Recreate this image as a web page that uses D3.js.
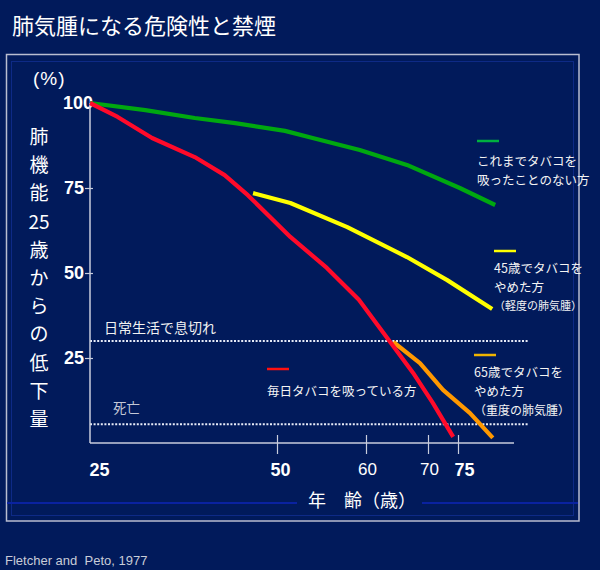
<!DOCTYPE html>
<html><head><meta charset="utf-8">
<script src="https://cdn.jsdelivr.net/npm/d3@7"></script>
<style>
html,body{margin:0;padding:0;background:#011a5b;}
svg{display:block;}
</style></head>
<body>
<script>
// ---------- data ----------
const title = "肺気腫になる危険性と禁煙";
const xTicks = [25, 50, 60, 70, 75];
const boldXTicks = [25, 50, 75];
const yTicks = [100, 75, 50, 25];
const yLabelChars = ["肺","機","能","25","歳","か","ら","の","低","下","量"];
const xLabel = "年　齢（歳）";
const source = "Fletcher and  Peto, 1977";

const nonSmokerAge = [25, 32.4, 39, 44.4, 50.9, 54, 59.3, 66.6, 75.3, 81.2];
const nonSmokerFEV = [100, 97.9, 95.6, 94.1, 91.8, 89.7, 86.2, 81.8, 75.0, 70.0];
const smokerAge = [25, 28.7, 33.3, 39, 43, 46.1, 51.5, 55.6, 59.2, 63.9, 67.6, 70.8, 74.2];
const smokerFEV = [100, 95.9, 89.7, 84.1, 78.8, 72.9, 60.6, 51.5, 42.1, 29.7, 20.6, 11.8, 1.8];
const quit45Age = [46.8, 51.5, 57.9, 66.6, 73.2, 80.7];
const quit45FEV = [73.5, 70.6, 63.5, 54.7, 47.9, 39.4];
const quit65Age = [64.4, 68.7, 72.5, 77.0, 80.8];
const quit65FEV = [29.7, 23.5, 15.6, 8.8, 1.5];

const thresholdValues = [30, 5.5];
const thresholdLabels = ["日常生活で息切れ", "死亡"];

const legendLabels = [
  ["これまでタバコを", "吸ったことのない方"],
  ["45歳でタバコを", "やめた方", "（軽度の肺気腫）"],
  ["毎日タバコを吸っている方"],
  ["65歳でタバコを", "やめた方", "（重度の肺気腫）"]
];

// ---------- layout ----------
const W = 600, H = 570;
const BG = "#011a5b";
const svg = d3.select("body").append("svg").attr("width", W).attr("height", H);
svg.append("rect").attr("width", W).attr("height", H).attr("fill", BG);

const x = d3.scaleLinear().domain(xTicks).range([90, 277, 366, 428, 458]);
const y = d3.scaleLinear().domain([0, 100]).range([443, 103]);

const cjk = "'Noto Sans CJK JP','Noto Sans CJK SC',sans-serif";
const num = "'Liberation Sans Narrow','Liberation Sans',Arial,sans-serif";

// title
svg.append("text").attr("x", 12).attr("y", 24).attr("dominant-baseline", "central")
  .attr("fill", "#ffffff").attr("font-family", cjk).attr("font-size", 22)
  .text(title);

// frame
svg.append("rect").attr("x", 6.5).attr("y", 54.5).attr("width", 572.5).attr("height", 466.5)
  .attr("fill", "none").attr("stroke", "#b9bdd0").attr("stroke-width", 1.5);
svg.append("rect").attr("x", 11.5).attr("y", 61.5).attr("width", 562).attr("height", 454)
  .attr("fill", "none").attr("stroke", "#0e2a86").attr("stroke-width", 1);
// faint separator line behind x-axis title
svg.append("line").attr("x1", 7).attr("x2", 578).attr("y1", 503).attr("y2", 503)
  .attr("stroke", "#0a22a0").attr("stroke-width", 2);

// threshold dotted lines
const thr = svg.append("g");
thresholdValues.forEach((v, i) => {
  thr.append("line").attr("x1", x(25)).attr("x2", 528).attr("y1", y(v)).attr("y2", y(v))
    .attr("stroke", "#e8ecf8").attr("stroke-width", 2).attr("stroke-dasharray", "2,1.6");
});
thr.append("text").attr("x", 104).attr("y", y(thresholdValues[0]) - 14)
  .attr("dominant-baseline", "central").attr("fill", "#f2f2f2")
  .attr("font-family", cjk).attr("font-size", 14).text(thresholdLabels[0]);
thr.append("text").attr("x", 113).attr("y", y(thresholdValues[1]) - 17)
  .attr("dominant-baseline", "central").attr("fill", "#c4c8d6")
  .attr("font-family", cjk).attr("font-size", 13.5).text(thresholdLabels[1]);

// axes
const axisColor = "#c8ccdc";
const yAxis = svg.append("g").attr("transform", `translate(${x(25)},0)`)
  .call(d3.axisLeft(y).tickValues(yTicks).tickSize(5).tickPadding(1));
yAxis.select(".domain").remove();
yAxis.append("line").attr("x1", 0).attr("x2", 0).attr("y1", y(100)).attr("y2", y(0))
  .attr("stroke", axisColor).attr("stroke-width", 1.5);
yAxis.selectAll(".tick line").attr("stroke", axisColor).attr("stroke-width", 1.2)
  .attr("x2", -5).attr("x1", 3);
yAxis.selectAll(".tick").filter(d => d === 100).select("line").remove();
yAxis.selectAll(".tick text").attr("fill", "#ffffff").attr("font-family", num)
  .attr("font-weight", "bold").attr("font-size", 18)
  .attr("dx", d => d === 100 ? 9 : 0);

const xAxis = svg.append("g").attr("transform", `translate(0,${y(0)})`)
  .call(d3.axisBottom(x).tickValues(xTicks).tickSize(11).tickPadding(9));
xAxis.select(".domain").remove();
xAxis.append("line").attr("x1", x(25)).attr("x2", 514).attr("y1", 0).attr("y2", 0)
  .attr("stroke", axisColor).attr("stroke-width", 1.5);
xAxis.selectAll(".tick line").attr("stroke", axisColor).attr("stroke-width", 1.2)
  .attr("y1", -8).attr("y2", 11);
xAxis.selectAll(".tick").filter(d => d === 25).select("line").remove();
xAxis.selectAll(".tick text").attr("fill", "#ffffff")
  .attr("font-family", d => boldXTicks.includes(d) ? num : "'Liberation Sans',Arial,sans-serif")
  .attr("font-weight", d => boldXTicks.includes(d) ? "bold" : "normal")
  .attr("font-size", d => boldXTicks.includes(d) ? 18 : 17)
  .attr("dx", d => d === 25 ? 9 : d === 75 ? 6 : d === 50 ? 3 : 1);

// axis titles
svg.append("text").attr("x", 33).attr("y", 78).attr("dominant-baseline", "central")
  .attr("fill", "#ffffff").attr("font-family", "'Liberation Sans',Arial,sans-serif")
  .attr("font-size", 19).attr("letter-spacing", 1).text("(%)");
const yl = svg.append("text").attr("fill", "#ffffff").attr("font-family", cjk)
  .attr("font-size", 19).attr("text-anchor", "middle").attr("dominant-baseline", "central");
yLabelChars.forEach((c, i) => {
  yl.append("tspan").attr("x", 39).attr("y", 135 + i * 28.2).text(c);
});
svg.append("rect").attr("x", 297).attr("y", 488).attr("width", 125).attr("height", 24).attr("fill", BG);
svg.append("text").attr("x", 308).attr("y", 499).attr("dominant-baseline", "central")
  .attr("fill", "#ffffff").attr("font-family", cjk).attr("font-size", 18).text(xLabel);

// series lines
const series = [
  {age: nonSmokerAge, v: nonSmokerFEV, color: "#00a810"},
  {age: quit45Age, v: quit45FEV, color: "#ffff00"},
  {age: smokerAge, v: smokerFEV, color: "#ff0a2a"},
  {age: quit65Age, v: quit65FEV, color: "#ff9800"}
];
const line = d3.line().x(d => x(d[0])).y(d => y(d[1])).curve(d3.curveLinear);
const drawOrder = [0, 1, 3, 2];
drawOrder.forEach(i => {
  const s = series[i];
  svg.append("path").datum(d3.zip(s.age, s.v)).attr("d", line)
    .attr("fill", "none").attr("stroke", s.color).attr("stroke-width", 4.2)
    .attr("stroke-linejoin", "round");
});

// legends
const legendPos = [
  {x: 477, dashY: 141, textY: 160, dash: "#00b040", sizes: [12.5, 12.5]},
  {x: 494, dashY: 251, textY: 267, dash: "#ffff00", sizes: [12.5, 12.5, 11]},
  {x: 267, dashY: 369, textY: 390, dash: "#ff1010", sizes: [12.5]},
  {x: 474, dashY: 355, textY: 371, dash: "#f0b400", sizes: [12.5, 12.5, 12]}
];
legendLabels.forEach((lines, i) => {
  const p = legendPos[i];
  svg.append("line").attr("x1", p.x).attr("x2", p.x + 22).attr("y1", p.dashY).attr("y2", p.dashY)
    .attr("stroke", p.dash).attr("stroke-width", 2.5);
  lines.forEach((t, j) => {
    svg.append("text").attr("x", p.x).attr("y", p.textY + j * 19)
      .attr("dominant-baseline", "central").attr("fill", "#f4f4f4")
      .attr("font-family", cjk).attr("font-size", p.sizes[j]).text(t);
  });
});

// source
svg.append("text").attr("x", 5).attr("y", 560).attr("dominant-baseline", "central")
  .attr("fill", "#c8ccd8").attr("font-family", "'Liberation Sans',Arial,sans-serif")
  .attr("font-size", 13).attr("xml:space", "preserve").style("white-space", "pre").text(source);
</script>
</body></html>
